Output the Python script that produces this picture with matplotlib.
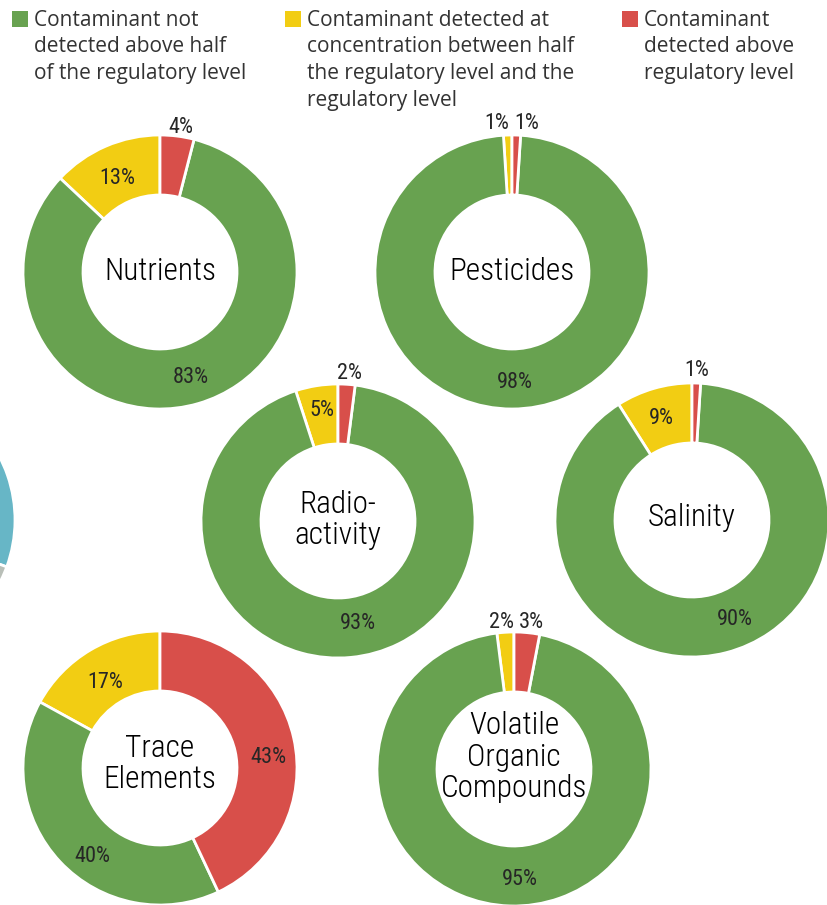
import matplotlib
matplotlib.use("Agg")
import matplotlib.pyplot as plt
from matplotlib import font_manager
from matplotlib.patches import Rectangle
import numpy as np

# ---------------- data ----------------
categories = ["Nutrients", "Pesticides", "Radio-\nactivity", "Salinity",
              "Trace\nElements", "Volatile\nOrganic\nCompounds"]
# order of wedges counter-clockwise from 12 o'clock: yellow, green, red
pct_between = [13, 1, 5, 9, 17, 2]     # yellow
pct_not = [83, 98, 93, 90, 40, 95]     # green
pct_above = [4, 1, 2, 1, 43, 3]        # red
legend_labels = [
    "Contaminant not\ndetected above half\nof the regulatory level",
    "Contaminant detected at\nconcentration between half\nthe regulatory level and the\nregulatory level",
    "Contaminant\ndetected above\nregulatory level",
]
# fragment of a neighbouring chart cut off at the left edge
fragment_values = [39, 6]

# ---------------- style / layout ----------------
W, H = 828, 905
GREEN, YELLOW, RED = "#68a250", "#f2cd13", "#d84f4a"
BLUE, GREY = "#67b6c6", "#b9bfb8"
TEXT = "#262626"
centers_px = [(160, 272), (512, 272), (338, 521), (692, 520), (160, 768), (514, 769)]
title_shift_px = [0, 0, 1, 2, 4, 12]       # upward shift of the centre titles
# label nudges (dx, dy in pixels, y downward) for yellow, green, red labels
label_nudge_px = [
    [(0, 6), (1, 2), (2, 3)],
    [(0, 0), (3, 2), (0, 0)],
    [(1, -4), (10, -5), (2, 1)],
    [(0, 2), (16, -5), (0, -1)],
    [(0, 7), (11, 15), (3, 13)],
    [(0, 2), (9, 3), (0, 2)],
]
R_OUT, R_IN = 137, 77

names = {f.name for f in font_manager.fontManager.ttflist}
COND = None
for cand in ["Roboto Condensed", "Open Sans Condensed", "Liberation Sans Narrow"]:
    if cand in names:
        COND = cand
        break
if COND is None:
    COND = "DejaVu Sans"
LEG = "Open Sans" if "Open Sans" in names else "DejaVu Sans"
plt.rcParams["font.family"] = [COND, "DejaVu Sans"]

fig = plt.figure(figsize=(W / 100, H / 100), dpi=100)
ax = fig.add_axes([0, 0, 1, 1])


def Y(y):
    return H - y


# fragment donut at the left edge
ax.pie(fragment_values, colors=[BLUE, GREY], startangle=-20,
       counterclock=True, radius=R_OUT, center=(-122, Y(520)),
       wedgeprops=dict(width=R_OUT - R_IN, edgecolor="white", linewidth=2))

for i, cat in enumerate(categories):
    cx, cy = centers_px[i]
    vals = [pct_between[i], pct_not[i], pct_above[i]]
    ax.pie(vals, colors=[YELLOW, GREEN, RED], startangle=90, counterclock=True,
           radius=R_OUT, center=(cx, Y(cy)),
           wedgeprops=dict(width=R_OUT - R_IN, edgecolor="white", linewidth=2))
    total = float(sum(vals))
    start = 90.0
    outside = []
    for j, v in enumerate(vals):
        span = 360.0 * v / total
        mid = np.deg2rad(start + span / 2)
        start += span
        ndx, ndy = label_nudge_px[i][j]
        if v >= 5:
            r = (R_OUT + R_IN) / 2 + 1
            ax.text(cx + r * np.cos(mid) + ndx, Y(cy) + r * np.sin(mid) - ndy, f"{v}%",
                    ha="center", va="center", fontsize=16, color=TEXT)
        else:
            r = R_OUT + 12
            outside.append([cx + r * np.cos(mid) + ndx, Y(cy) + r * np.sin(mid) - ndy, v])
    if len(outside) == 2:
        outside.sort(key=lambda p: p[0])
        gap = outside[1][0] - outside[0][0]
        if gap < 30:
            d = (30 - gap) / 2
            outside[0][0] -= d
            outside[1][0] += d
    for x, y, v in outside:
        ax.text(x, y, f"{v}%", ha="center", va="center", fontsize=16, color=TEXT)
    ax.text(cx, Y(cy) + title_shift_px[i], cat, ha="center", va="center",
            fontsize=22.5, color="black", linespacing=1.12, fontweight="light")

# legend
leg_cols = [(12, GREEN), (285, YELLOW), (622, RED)]
for (x0, col), lab in zip(leg_cols, legend_labels):
    ax.add_patch(Rectangle((x0, Y(27)), 16, 16, facecolor=col, edgecolor="none"))
    for k, line in enumerate(lab.split("\n")):
        ax.text(x0 + 22, Y(20 + 26.7 * k), line, ha="left", va="center",
                fontsize=15, color="#333333", family=[LEG, "DejaVu Sans"])

ax.set_xlim(0, W)
ax.set_ylim(0, H)
ax.set_aspect("equal")
ax.axis("off")
fig.savefig("out.png", dpi=100)
